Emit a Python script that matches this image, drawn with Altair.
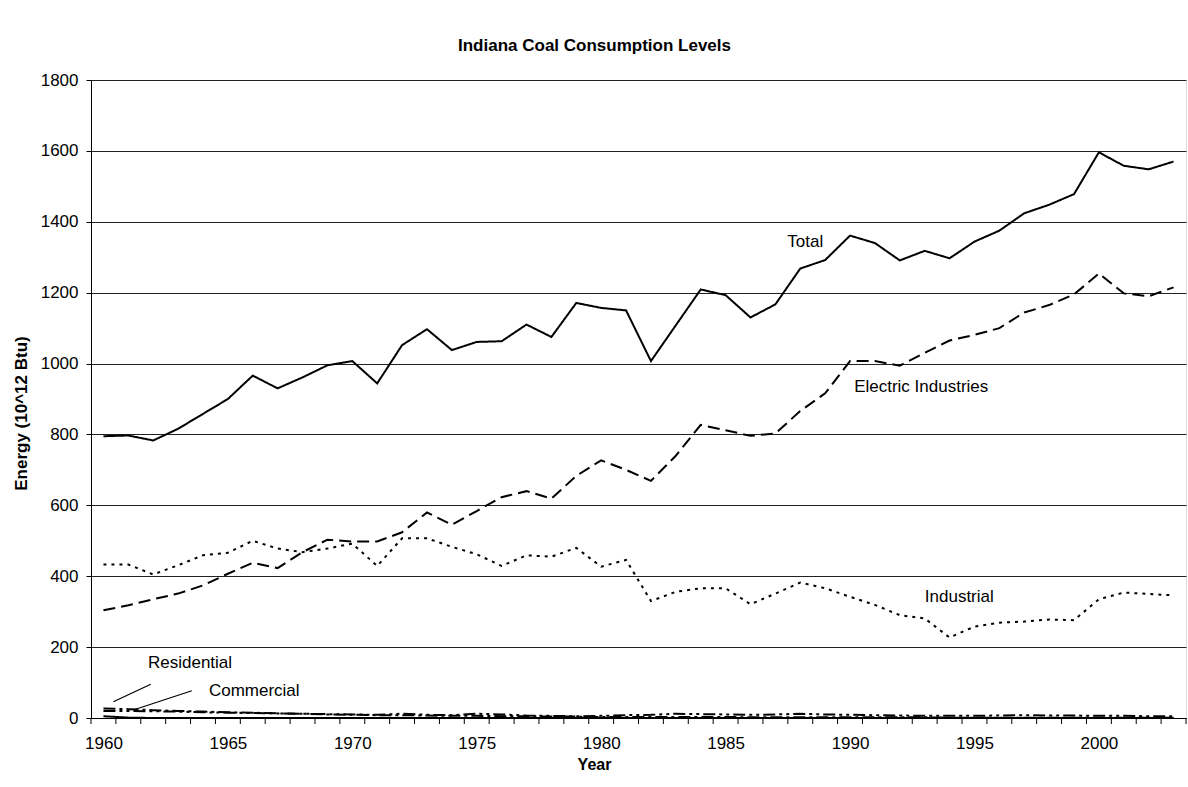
import altair as alt
import pandas as pd

years = list(range(1960, 2004))

total = [795, 797, 783, 816, 858, 900, 966, 930, 961, 995,
         1007, 944, 1052, 1097, 1038, 1061, 1063, 1110, 1075, 1171,
         1157, 1150, 1007, 1108, 1209, 1193, 1130, 1167, 1268, 1292,
         1361, 1340, 1291, 1318, 1297, 1344, 1375, 1424, 1448, 1478,
         1596, 1558, 1548, 1570]

electric = [304, 318, 335, 351, 374, 407, 438, 423, 468, 503,
            498, 498, 524, 580, 545, 584, 623, 640, 619, 683,
            727, 700, 669, 740, 827, 812, 796, 803, 866, 916,
            1007, 1007, 994, 1030, 1065, 1081, 1100, 1144, 1165, 1195,
            1254, 1198, 1190, 1215]

industrial = [433, 433, 405, 431, 459, 466, 500, 478, 468, 478,
              492, 429, 507, 507, 483, 462, 429, 459, 455, 480,
              427, 446, 330, 356, 366, 366, 321, 351, 382, 366,
              342, 319, 290, 281, 227, 258, 269, 272, 278, 276,
              335, 354, 350, 346]

residential = [27, 25, 22, 20, 18, 16, 15, 13, 12, 10,
               9, 8, 8, 7, 6, 6, 5, 5, 4, 4,
               3, 3, 3, 3, 3, 3, 2, 2, 2, 2,
               2, 2, 2, 2, 1, 1, 1, 1, 1, 1,
               1, 1, 1, 1]

commercial = [20, 20, 19, 18, 16, 15, 14, 13, 12, 11,
              10, 9, 12, 9, 8, 12, 10, 7, 6, 5,
              6, 8, 9, 12, 11, 10, 9, 10, 12, 10,
              9, 8, 7, 6, 6, 6, 7, 8, 7, 7,
              6, 6, 5, 5]

transportation = [5, 1, 0, 0, 0, 0, 0, 0, 0, 0,
                  0, 0, 0, 0, 0, 0, 0, 0, 0, 0,
                  0, 0, 0, 0, 0, 0, 0, 0, 0, 0,
                  0, 0, 0, 0, 0, 0, 0, 0, 0, 0,
                  0, 0, 0, 0]

series_names = ["Total", "Electric Industries", "Industrial",
                "Residential", "Commercial", "Transportation"]
series_values = [total, electric, industrial, residential, commercial, transportation]
dash_styles = [[1, 0], [12, 6], [3, 5], [12, 4, 3, 4], [12, 4, 3, 4, 3, 4], [1, 0]]
stroke_widths = [2, 2, 2.2, 2, 2, 1.5]

label_texts = ["Total", "Electric Industries", "Industrial", "Residential", "Commercial"]
label_years = [1988.2, 1992.86, 1994.39, 1963.48, 1966.06]
label_values = [1343, 933, 342, 155, 76]

leader_x1 = [1960.40, 1961.20]
leader_x2 = [1961.90, 1963.55]
leader_y1 = [46, 22.6]
leader_y2 = [95, 77]

y_ticks = list(range(0, 1801, 200))
x_label_years = list(range(1960, 2001, 5))
x_tick_positions = [1959.5 + i for i in range(45)]

rows = []
for name, vals in zip(series_names, series_values):
    for yr, v in zip(years, vals):
        rows.append({"year": yr, "value": v, "series": name})
df = pd.DataFrame(rows)

labels_df = pd.DataFrame({"text": label_texts, "year": label_years, "value": label_values})
leaders_df = pd.DataFrame({"x1": leader_x1, "x2": leader_x2, "y1": leader_y1, "y2": leader_y2})
ticks_df = pd.DataFrame({"pos": x_tick_positions})

FONT = "Liberation Sans"
PLOT_W = 1095
PLOT_H = 638

x_scale = alt.Scale(domain=[1959.5, 2003.5], nice=False, zero=False)
y_scale = alt.Scale(domain=[0, 1800], nice=False)

x_axis = alt.Axis(
    values=x_label_years,
    format="d",
    ticks=False,
    tickSize=0,
    grid=False,
    domainColor="black",
    domainWidth=1,
    labelFontSize=17,
    labelFont=FONT,
    labelColor="black",
    labelPadding=17,
    labelOverlap=False,
    title="Year",
    titleFont=FONT,
    titleFontSize=16,
    titleFontWeight="bold",
    titleColor="black",
    titleX=503,
    titleY=46,
    titleAlign="center",
    titleBaseline="middle",
)

y_axis = alt.Axis(
    values=y_ticks,
    format="d",
    grid=True,
    gridColor="#222222",
    gridWidth=1,
    tickSize=5,
    tickColor="black",
    domainColor="black",
    domainWidth=1,
    labelFontSize=17,
    labelFont=FONT,
    labelColor="black",
    labelPadding=8,
    title="Energy (10^12 Btu)",
    titleFont=FONT,
    titleFontSize=17,
    titleFontWeight="bold",
    titleColor="black",
    titleX=-70,
    titleY=333,
    titleAlign="center",
    titleBaseline="middle",
    titleAngle=270,
)

lines = alt.Chart(df).mark_line(color="black").encode(
    x=alt.X("year:Q", scale=x_scale, axis=x_axis),
    y=alt.Y("value:Q", scale=y_scale, axis=y_axis),
    strokeDash=alt.StrokeDash("series:N", scale=alt.Scale(domain=series_names, range=dash_styles), legend=None),
    strokeWidth=alt.StrokeWidth("series:N", scale=alt.Scale(domain=series_names, range=stroke_widths), legend=None),
    detail="series:N",
)

# category tick marks on the x axis (between years)
tick_marks = alt.Chart(ticks_df).mark_rule(color="black", strokeWidth=1).encode(
    x=alt.X("pos:Q", scale=x_scale),
    y=alt.value(PLOT_H),
    y2=alt.value(PLOT_H + 6),
)

texts = alt.Chart(labels_df).mark_text(
    font=FONT, fontSize=17, color="black", align="center", baseline="middle"
).encode(
    x=alt.X("year:Q", scale=x_scale),
    y=alt.Y("value:Q", scale=y_scale),
    text="text:N",
)

leaders = alt.Chart(leaders_df).mark_rule(color="black", strokeWidth=1.2).encode(
    x=alt.X("x1:Q", scale=x_scale),
    x2="x2:Q",
    y=alt.Y("y1:Q", scale=y_scale),
    y2="y2:Q",
)

chart = alt.layer(lines, tick_marks, leaders, texts).properties(
    width=PLOT_W,
    height=PLOT_H,
    autosize=alt.AutoSizeParams(type="none"),
    padding={"left": 91, "top": 80, "right": 2, "bottom": 69},
    title=alt.TitleParams(
        text="Indiana Coal Consumption Levels",
        font=FONT,
        fontSize=17,
        fontWeight="bold",
        color="black",
        anchor="middle",
        frame="group",
        dx=-44,
        offset=16,
    ),
).configure_view(
    stroke="#808080", strokeWidth=1
).configure(background="white")

chart.save("out.html", embed_options={"renderer": "svg", "actions": False})
